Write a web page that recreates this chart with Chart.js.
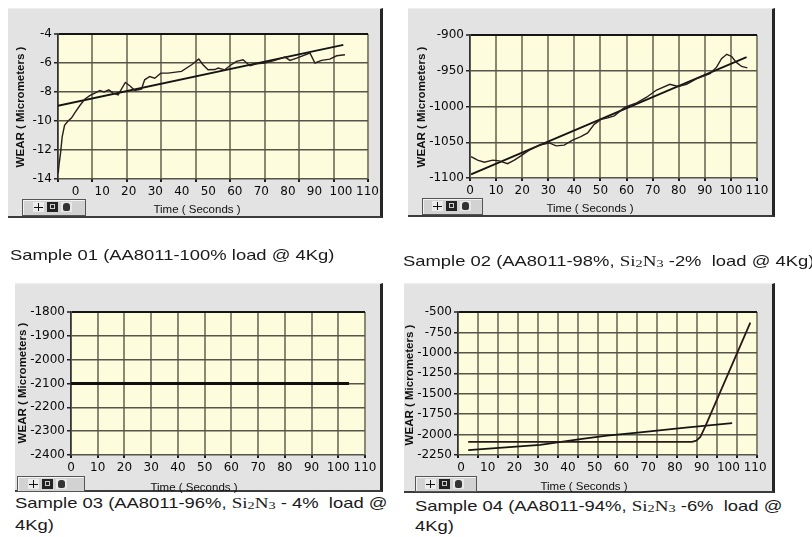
<!DOCTYPE html>
<html>
<head>
<meta charset="utf-8">
<script src="https://cdn.jsdelivr.net/npm/chart.js@4.4.1/dist/chart.umd.min.js"></script>
<style>
  body { margin: 0; width: 812px; height: 537px; position: relative; overflow: hidden; background: #fff; font-family: "Liberation Sans", Arial, sans-serif; }
  .frame { position: absolute; box-sizing: border-box; background: #e3e3e3; border-right: 3px solid #262626; border-bottom: 2px solid #3c3c3c; border-top: 1px solid #eeeeee; }
  .frame canvas { position: absolute; left: 0; top: -1px; }
  .ytitle { position: absolute; font: bold 11.5px "Liberation Sans", Arial, sans-serif; color: #111; white-space: nowrap; transform: translate(-50%, -50%) rotate(-90deg); }
  .xtitle { position: absolute; font: 11.5px "Liberation Sans", Arial, sans-serif; color: #111; white-space: nowrap; transform: translate(-50%, -50%); }
  .cap { position: absolute; font-size: 14.5px; line-height: 20px; color: #1a1a1a; white-space: pre; transform-origin: 0 50%; transform: scaleX(1.27); }
  .cap .f { font-family: "Liberation Serif", "Times New Roman", serif; font-size: 15px; }
  .cap sub { font-size: 75%; vertical-align: -1px; }
  .tool { position: absolute; box-sizing: border-box; background: #d2d2d2; border: 1px solid #555; box-shadow: inset 1px 1px #f4f4f4; }
  .ic { position: absolute; top: 2px; width: 11px; height: 10px; }
  .ic1 { background: #ececec; }
  .ic1::before { content: ""; position: absolute; left: 5px; top: 1px; width: 1px; height: 8px; background: #111; }
  .ic1::after { content: ""; position: absolute; left: 1px; top: 5px; width: 9px; height: 1px; background: #111; }
  .ic2 { background: #222; }
  .ic2::before { content: ""; position: absolute; left: 3px; top: 2px; width: 5px; height: 5px; border: 1px solid #ccc; box-sizing: border-box; }
  .ic3 { background: #e8e8e8; }
  .ic3::before { content: ""; position: absolute; left: 2px; top: 1px; width: 7px; height: 8px; background: #333; border-radius: 3px 3px 2px 2px; }
</style>
</head>
<body>

<div class="frame" style="left:8px;top:8px;width:375px;height:210px"><canvas id="c1"></canvas></div>
<div class="frame" style="left:408px;top:8px;width:367px;height:209px"><canvas id="c2"></canvas></div>
<div class="frame" style="left:15px;top:283px;width:368px;height:209px"><canvas id="c3"></canvas></div>
<div class="frame" style="left:404px;top:283px;width:371px;height:210px"><canvas id="c4"></canvas></div>

<div class="ytitle" style="left:20px;top:107px">WEAR ( Micrometers )</div>
<div class="ytitle" style="left:421px;top:107px">WEAR ( Micrometers )</div>
<div class="ytitle" style="left:22px;top:383px">WEAR ( Micrometers )</div>
<div class="ytitle" style="left:409px;top:385px">WEAR ( Micrometers )</div>

<div class="xtitle" style="left:197px;top:209px">Time ( Seconds )</div>
<div class="xtitle" style="left:590px;top:208px">Time ( Seconds )</div>
<div class="xtitle" style="left:194px;top:487px">Time ( Seconds )</div>
<div class="xtitle" style="left:584px;top:486px">Time ( Seconds )</div>

<div class="tool" style="left:22px;top:199px;width:64px;height:17px"><div class="ic ic1" style="left:10px"></div><div class="ic ic2" style="left:24px"></div><div class="ic ic3" style="left:38px"></div></div>
<div class="tool" style="left:422px;top:198px;width:61px;height:17px"><div class="ic ic1" style="left:9px"></div><div class="ic ic2" style="left:23px"></div><div class="ic ic3" style="left:37px"></div></div>
<div class="tool" style="left:17px;top:476px;width:68px;height:16px"><div class="ic ic1" style="left:10px"></div><div class="ic ic2" style="left:24px"></div><div class="ic ic3" style="left:38px"></div></div>
<div class="tool" style="left:415px;top:476px;width:62px;height:16px"><div class="ic ic1" style="left:9px"></div><div class="ic ic2" style="left:23px"></div><div class="ic ic3" style="left:37px"></div></div>

<div class="cap" style="left:10px;top:245px">Sample 01 (AA8011-100% load @ 4Kg)</div>
<div class="cap" style="left:403px;top:251px">Sample 02 (AA8011-98%, <span class="f">Si<sub>2</sub>N<sub>3</sub></span> -2%  load @ 4Kg)</div>
<div class="cap" style="left:15px;top:493px">Sample 03 (AA8011-96%, <span class="f">Si<sub>2</sub>N<sub>3</sub></span> - 4%  load @<br>4Kg)</div>
<div class="cap" style="left:415px;top:497px;line-height:18px">Sample 04 (AA8011-94%, <span class="f">Si<sub>2</sub>N<sub>3</sub></span> -6%  load @<br>4Kg)</div>

<script>
// tick labels shared by every time axis
const xTicks = [0, 10, 20, 30, 40, 50, 60, 70, 80, 90, 100, 110];

// Sample 01 - AA8011 100%
const s1YTicks = [-14, -12, -10, -8, -6, -4];
const s1Time = [-6.6, -6.2, -5.7, -5.1, -4.2, -2.9, -1.6, -0.4, 1.5, 3.4, 5.3, 7.2, 9.1, 10.7, 12.5, 14.1, 16.0, 18.7, 20.4, 22.3, 24.8, 26.0, 27.9, 29.8, 32.1, 34.8, 39.9, 43.7, 46.4, 48.0, 49.9, 52.5, 53.7, 56.2, 58.1, 60.6, 63.1, 65.7, 68.2, 71.3, 75.1, 78.9, 80.8, 83.3, 88.3, 90.2, 92.7, 95.8, 98.4, 101.5];
const s1Wear = [-13.6, -12.9, -12.2, -11.1, -10.3, -10.0, -9.8, -9.45, -8.95, -8.5, -8.25, -8.08, -7.9, -8.0, -7.85, -8.08, -8.2, -7.34, -7.57, -7.9, -7.8, -7.16, -6.93, -7.05, -6.7, -6.7, -6.58, -6.12, -5.73, -6.12, -6.47, -6.45, -6.35, -6.47, -6.19, -5.89, -5.78, -6.19, -6.05, -6.0, -5.82, -5.59, -5.82, -5.66, -5.31, -6.0, -5.82, -5.73, -5.5, -5.43];
const s1FitTime = [-6.7, 100.9];
const s1FitWear = [-8.95, -4.75];

// Sample 02 - Si2N3 2%
const s2YTicks = [-1100, -1050, -1000, -950, -900];
const s2Time = [0.4, 2.9, 5.5, 8.7, 11.2, 14.4, 17.0, 19.5, 22.7, 26.6, 30.4, 33.0, 36.1, 39.3, 42.5, 45.1, 47.6, 50.2, 52.8, 55.3, 59.4, 63.9, 67.7, 71.5, 76.6, 79.8, 83.0, 86.9, 92.0, 94.5, 96.4, 98.4, 100.3, 102.0, 104.1, 106.3];
const s2Wear = [-1070, -1075, -1078, -1075, -1076, -1080, -1075, -1069, -1061, -1054, -1051, -1055, -1054, -1047, -1042, -1037, -1025, -1018, -1016, -1013, -1001, -995, -987, -977, -969, -972, -969, -961, -954, -945, -933, -927, -930, -938, -944, -946];
const s2FitTime = [0.4, 106];
const s2FitWear = [-1095, -931];

// Sample 03 - Si2N3 4%
const s3YTicks = [-2400, -2300, -2200, -2100, -2000, -1900, -1800];
const s3Time = [0, 104];
const s3Wear = [-2100, -2100];

// Sample 04 - Si2N3 6%
const s4YTicks = [-2250, -2000, -1750, -1500, -1250, -1000, -750, -500];
const s4Time = [2.7, 86.4, 88.0, 89.5, 91.5, 108.2];
const s4Wear = [-2090, -2090, -2075, -2030, -1890, -630];
const s4FitTime = [2.7, 29.6, 44.6, 54.6, 67.0, 84.0, 101.4];
const s4FitWear = [-2190, -2127, -2055, -2012, -1972, -1915, -1860];

const pts = (xs, ys) => xs.map((x, i) => ({ x: x, y: ys[i] }));

const line = (xs, ys, color, width) => ({
  data: pts(xs, ys),
  xAxisID: "x",
  yAxisID: "y",
  borderColor: color,
  borderWidth: width,
  pointRadius: 0,
  tension: 0,
  fill: false,
});

const plotBg = {
  id: "plotBg",
  beforeDraw(chart) {
    const { ctx, chartArea: a } = chart;
    ctx.save();
    ctx.fillStyle = "#fdfddd";
    ctx.fillRect(a.left, a.top, a.right - a.left, a.bottom - a.top);
    ctx.restore();
  },
};

const tickFont = { family: "DejaVu Sans", size: 12 };

function makeChart(p) {
  const [fl, ft, fr, fb] = p.frame;
  const [pl, pt, pr, pb] = p.plot;
  const w = fr - fl - 3;
  const h = fb - ft - 2;
  const canvas = document.getElementById(p.id);
  canvas.width = w;
  canvas.height = h;
  canvas.style.width = w + "px";
  canvas.style.height = h + "px";
  const yMin = p.yTicks[0];
  const yMax = p.yTicks[p.yTicks.length - 1];

  return new Chart(canvas, {
    type: "line",
    data: { datasets: p.datasets },
    options: {
      responsive: false,
      animation: false,
      devicePixelRatio: 1,
      layout: { padding: { left: 0, top: pt - ft, right: w - (pr - fl), bottom: 0 } },
      plugins: { legend: { display: false }, tooltip: { enabled: false } },
      scales: {
        xg: {
          type: "linear",
          position: "bottom",
          weight: 0,
          min: 0,
          max: p.gridDivs,
          ticks: { display: false, stepSize: 1 },
          grid: { color: "#8a8870", lineWidth: 2, tickLength: 3, tickColor: "#1a1a1a", tickWidth: 2 },
          border: { display: false },
          afterFit(s) { s.height = 0; s.paddingLeft = 0; s.paddingRight = 0; },
        },
        x: {
          type: "linear",
          position: "bottom",
          weight: 1,
          min: p.xMin,
          max: p.xMax,
          afterBuildTicks(s) { s.ticks = xTicks.map((v) => ({ value: v })); },
          ticks: { autoSkip: false, maxRotation: 0, minRotation: 0, padding: 6, color: "#0a0a0a", font: tickFont, callback: (v) => String(v) },
          grid: { display: false, drawTicks: false },
          border: { display: false },
          afterFit(s) { s.height = h - (pb - ft); s.paddingLeft = 0; s.paddingRight = 0; },
        },
        y: {
          type: "linear",
          min: yMin,
          max: yMax,
          afterBuildTicks(s) { s.ticks = p.yTicks.map((v) => ({ value: v })); },
          ticks: { padding: 2, color: "#0a0a0a", font: tickFont, callback: (v) => String(v) },
          grid: {
            color: (c) => (c.tick && c.tick.value === yMax ? "#151515" : "#55554a"),
            lineWidth: (c) => (c.tick && c.tick.value === yMax ? 2 : 1.5),
            tickLength: 4,
            tickColor: "#222",
            tickWidth: 1.5,
          },
          border: { color: "#333", width: 1.5 },
          afterFit(s) { s.width = pl - fl; s.paddingTop = 0; s.paddingBottom = 0; },
        },
      },
    },
    plugins: [plotBg],
  });
}

makeChart({
  id: "c1", frame: [8, 8, 383, 218], plot: [58, 34, 368, 179],
  gridDivs: 9, xMin: -6.67, xMax: 110.2, yTicks: s1YTicks,
  datasets: [
    line(s1Time, s1Wear, "#2b1d1d", 1.4),
    line(s1FitTime, s1FitWear, "#141414", 1.8),
  ],
});

makeChart({
  id: "c2", frame: [408, 8, 775, 217], plot: [470, 35, 757, 178],
  gridDivs: 11, xMin: 0, xMax: 110, yTicks: s2YTicks,
  datasets: [
    line(s2Time, s2Wear, "#2b1d1d", 1.4),
    line(s2FitTime, s2FitWear, "#141414", 1.8),
  ],
});

makeChart({
  id: "c3", frame: [15, 283, 383, 492], plot: [71, 312, 365, 455],
  gridDivs: 11, xMin: 0, xMax: 110, yTicks: s3YTicks,
  datasets: [
    line(s3Time, s3Wear, "#101010", 3),
  ],
});

makeChart({
  id: "c4", frame: [404, 283, 775, 493], plot: [458, 312, 757, 455],
  gridDivs: 15, xMin: -1.12, xMax: 110.7, yTicks: s4YTicks,
  datasets: [
    line(s4Time, s4Wear, "#2a1818", 1.8),
    line(s4FitTime, s4FitWear, "#151515", 1.8),
  ],
});
</script>
</body>
</html>
